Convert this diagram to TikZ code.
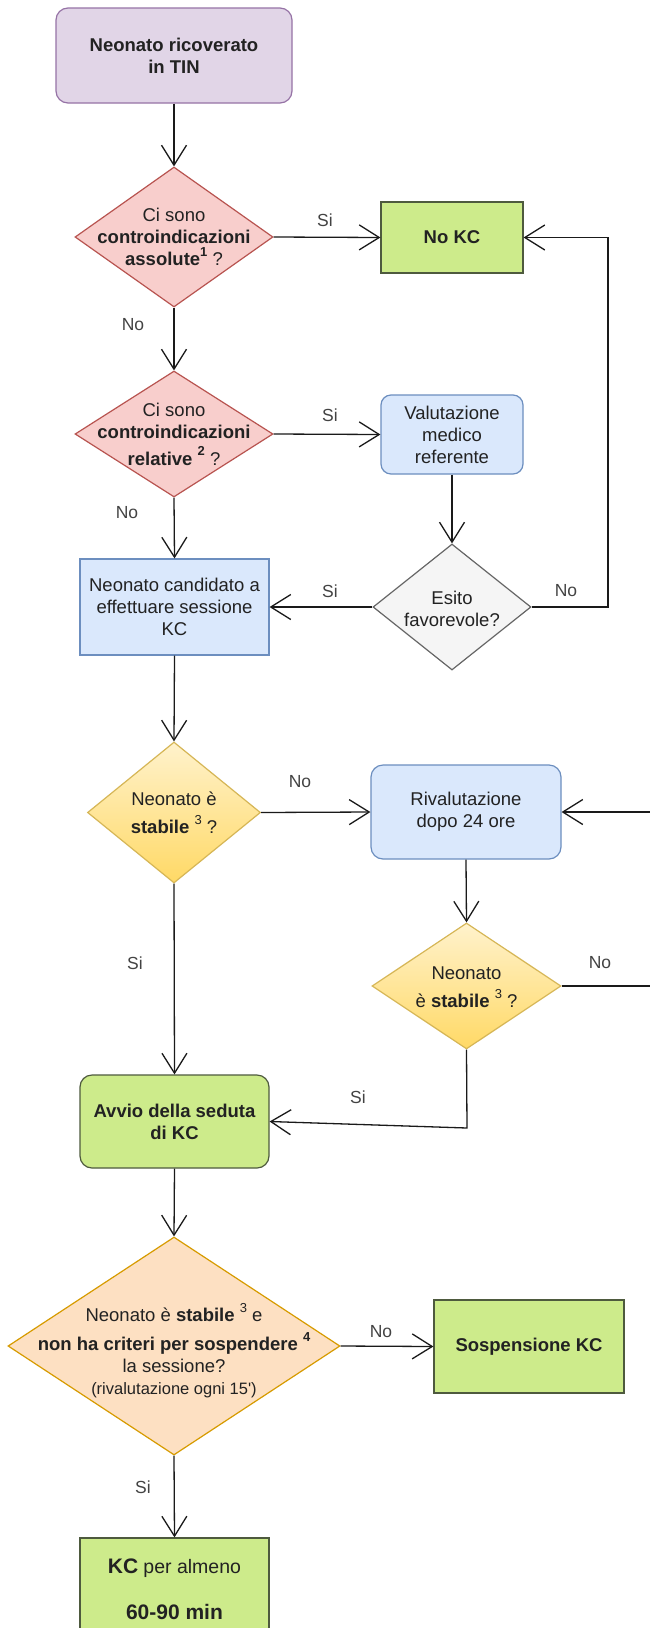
\documentclass[tikz,border=0pt]{standalone}
\usepackage{fontspec}
\setmainfont{Liberation Sans}
\usetikzlibrary{shapes.geometric,arrows.meta}
\definecolor{purpF}{HTML}{E1D5E7}\definecolor{purpD}{HTML}{9673A6}
\definecolor{redF}{HTML}{F8CECC}\definecolor{redD}{HTML}{B85450}
\definecolor{grnF}{HTML}{CDEB8B}\definecolor{grnD}{HTML}{4E5A3E}
\definecolor{bluF}{HTML}{DAE8FC}\definecolor{bluD}{HTML}{6C8EBF}
\definecolor{gryF}{HTML}{F5F5F5}\definecolor{gryD}{HTML}{666666}
\definecolor{ylwT}{HTML}{FFF2CC}\definecolor{ylwB}{HTML}{FFD966}\definecolor{ylwD}{HTML}{D6B656}
\definecolor{orgF}{HTML}{FDE0C2}\definecolor{orgD}{HTML}{D79B00}
\definecolor{txt}{HTML}{222222}
\definecolor{lnc}{HTML}{1A1A1A}
\newcommand\supx[1]{\raisebox{0.5em}{\fontsize{13}{13}\selectfont #1}}
\tikzset{
  base/.style={draw, line width=1.2pt, align=center, inner sep=0pt, text=txt,
    font=\fontsize{18.5}{22}\selectfont},
  boxp/.style={base, fill=purpF, draw=purpD, rounded corners=12pt},
  boxg/.style={base, fill=grnF, draw=grnD},
  boxb/.style={base, fill=bluF, draw=bluD},
  dshape/.style={shape=diamond, draw, line width=1.2pt, inner sep=0pt},
  dred/.style={dshape, fill=redF, draw=redD},
  dgry/.style={dshape, fill=gryF, draw=gryD},
  dylw/.style={dshape, top color=ylwT, bottom color=ylwB, draw=ylwD},
  dorg/.style={dshape, fill=orgF, draw=orgD},
  dtext/.style={align=center, inner sep=0pt, text=txt, font=\fontsize{18.5}{22}\selectfont},
  conn/.style={draw=lnc, line width=1.3pt, -{Straight Barb[length=20pt,width=25pt]}},
  lbl/.style={inner sep=0pt, text=txt!85, font=\fontsize{17.5}{20}\selectfont}
}
\begin{document}
\begin{tikzpicture}[x=1pt,y=-1pt]
\useasboundingbox (0,0) rectangle (650,1628);
\fill[white] (0,0) rectangle (650,1628);
\clip (0,0) rectangle (650,1628);

% nodes
\node[boxp, minimum width=236, minimum height=95] (start) at (174,55.5)
  {\textbf{Neonato ricoverato}\\\textbf{in TIN}};

\node[dred, minimum width=198, minimum height=140] (d1) at (174,237) {};
\node[dtext] (d1t) at (174,237) {Ci sono\\\textbf{controindicazioni}\\\textbf{assolute\supx{1}} ?};

\node[boxg, minimum width=142, minimum height=71] (nokc) at (452,237.5) {\textbf{No KC}};

\node[dred, minimum width=198, minimum height=126] (d2) at (174,434) {};
\node[dtext] (d2t) at (174,434) {Ci sono\\\textbf{controindicazioni}\\[5pt]\textbf{relative \supx{2}} ?};

\node[boxb, rounded corners=10pt, minimum width=142, minimum height=79] (val) at (452,434.5)
  {Valutazione\\medico\\referente};

\node[boxb, minimum width=189, minimum height=96] (cand) at (174.5,607)
  {Neonato candidato a\\effettuare sessione\\KC};

\node[dgry, minimum width=158, minimum height=126] (esito) at (452,607) {};
\node[dtext] (esitot) at (452,609) {Esito\\favorevole?};

\node[dylw, minimum width=173, minimum height=141] (d3) at (174,812.5) {};
\node[dtext] (d3t) at (174,813) {Neonato è\\[6pt]\textbf{stabile} \supx{3} ?};

\node[boxb, rounded corners=12pt, minimum width=190, minimum height=94] (rival) at (466,812)
  {Rivalutazione\\dopo 24 ore};

\node[dylw, minimum width=189, minimum height=126] (d4) at (466.5,986) {};
\node[dtext] (d4t) at (466.5,987) {Neonato\\[6pt]è \textbf{stabile} \supx{3} ?};

\node[boxg, rounded corners=12pt, minimum width=189, minimum height=93] (avvio) at (174.5,1121.5)
  {\textbf{Avvio della seduta}\\\textbf{di KC}};

\node[dorg, minimum width=332, minimum height=218] (d5) at (174,1346) {};
\node[dtext] (d5t) at (174,1351) {Neonato è \textbf{stabile} \supx{3} e\\[7pt]\textbf{non ha criteri per sospendere \supx{4}}\\la sessione?\\{\fontsize{16.5}{20}\selectfont (rivalutazione ogni 15\textquotesingle)}};

\node[boxg, minimum width=190, minimum height=93] (sosp) at (529,1346.5) {\textbf{Sospensione KC}};

\node[boxg, minimum width=189, minimum height=102] (final) at (174.5,1589)
  {{\fontsize{21}{22}\selectfont\textbf{KC}} {\fontsize{19.5}{22}\selectfont per almeno}\\[24pt]{\fontsize{21}{22}\selectfont\textbf{60-90 min}}};

% connectors
\draw[conn] (start.south) -- (d1.north);
\draw[conn] (d1.east) -- (nokc.west);
\draw[conn] (d1.south) -- (d2.north);
\draw[conn] (d2.east) -- (val.west);
\draw[conn] (d2.south) -- (cand.north);
\draw[conn] (val.south) -- (esito.north);
\draw[conn] (esito.west) -- (cand.east);
\coordinate (loopA) at (608,607);
\draw[conn] (esito.east) -- (loopA) |- (nokc.east);
\draw[conn] (cand.south) -- (d3.north);
\draw[conn] (d3.east) -- (rival.west);
\draw[conn] (d3.south) -- (avvio.north);
\draw[conn] (rival.south) -- (d4.north);
\coordinate (loopB) at (680,986);
\draw[conn] (d4.east) -- (loopB) |- (rival.east);
\coordinate (bendC) at (467,1128);
\draw[conn] (d4.south) -- (bendC) -- (avvio.east);
\draw[conn] (avvio.south) -- (d5.north);
\draw[conn] (d5.east) -- (sosp.west);
\draw[conn] (d5.south) -- (final.north);

% labels
\node[lbl] (l1) at (325,220) {Si};
\node[lbl] (l2) at (133,325) {No};
\node[lbl] (l3) at (330,415) {Si};
\node[lbl] (l4) at (127,513) {No};
\node[lbl] (l5) at (330,591) {Si};
\node[lbl] (l6) at (566,591) {No};
\node[lbl] (l7) at (300,782) {No};
\node[lbl] (l8) at (135,963) {Si};
\node[lbl] (l9) at (600,963) {No};
\node[lbl] (l10) at (358,1097) {Si};
\node[lbl] (l11) at (381,1332) {No};
\node[lbl] (l12) at (143,1487) {Si};
\end{tikzpicture}
\end{document}
